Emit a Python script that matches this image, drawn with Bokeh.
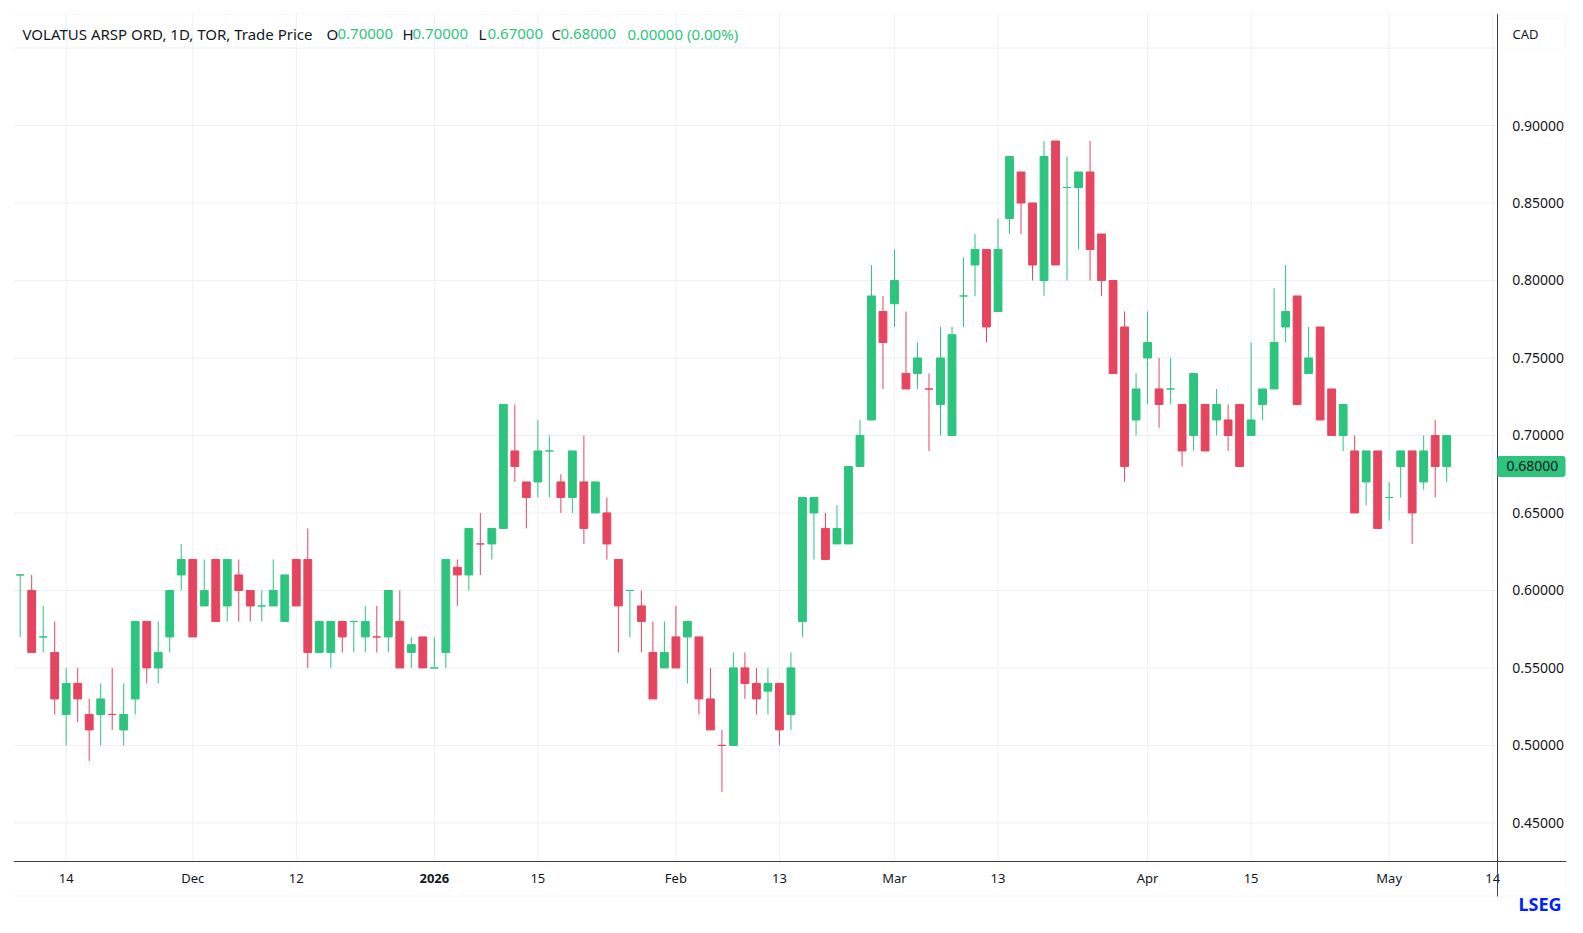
import pandas as pd
from bokeh.plotting import figure
from bokeh.models import (ColumnDataSource, FixedTicker, Label, BoxAnnotation,
                          NumeralTickFormatter, Range1d)
from bokeh.embed import file_html
from bokeh.resources import INLINE

# ---------------- data ----------------
first_session = "2025-11-10"
last_axis_day = "2026-05-14"
exchange_holidays = ["2025-12-25", "2025-12-26", "2026-01-01", "2026-02-16", "2026-04-03"]

opens = [0.61, 0.60, 0.57, 0.56, 0.52, 0.54, 0.52, 0.52, 0.52, 0.51,
         0.53, 0.58, 0.55, 0.57, 0.61, 0.62, 0.59, 0.62, 0.59, 0.61,
         0.60, 0.59, 0.59, 0.58, 0.62, 0.62, 0.56, 0.56, 0.58, 0.58,
         0.57, 0.57, 0.57, 0.58, 0.56, 0.57, 0.55, 0.56, 0.615, 0.61,
         0.63, 0.63, 0.64, 0.69, 0.67, 0.67, 0.69, 0.67, 0.66, 0.67,
         0.65, 0.65, 0.62, 0.60, 0.59, 0.56, 0.55, 0.57, 0.57, 0.57,
         0.53, 0.50, 0.50, 0.55, 0.54, 0.535, 0.54, 0.52, 0.58, 0.65,
         0.64, 0.63, 0.63, 0.68, 0.71, 0.78, 0.785, 0.74, 0.74, 0.73,
         0.72, 0.70, 0.79, 0.81, 0.82, 0.78, 0.84, 0.87, 0.85, 0.80,
         0.89, 0.86, 0.86, 0.87, 0.83, 0.80, 0.77, 0.71, 0.75, 0.73,
         0.73, 0.72, 0.70, 0.72, 0.71, 0.71, 0.72, 0.70, 0.72, 0.73,
         0.77, 0.79, 0.74, 0.77, 0.73, 0.70, 0.69, 0.67, 0.69, 0.66,
         0.68, 0.69, 0.67, 0.70, 0.68]
highs = [0.61, 0.61, 0.59, 0.58, 0.55, 0.55, 0.53, 0.54, 0.55, 0.54,
         0.58, 0.58, 0.58, 0.60, 0.63, 0.62, 0.62, 0.62, 0.62, 0.62,
         0.60, 0.60, 0.62, 0.61, 0.62, 0.64, 0.58, 0.58, 0.58, 0.58,
         0.59, 0.59, 0.60, 0.60, 0.57, 0.57, 0.57, 0.62, 0.62, 0.64,
         0.65, 0.64, 0.72, 0.72, 0.67, 0.71, 0.70, 0.675, 0.69, 0.70,
         0.67, 0.66, 0.62, 0.60, 0.60, 0.58, 0.58, 0.59, 0.58, 0.57,
         0.55, 0.51, 0.56, 0.56, 0.55, 0.55, 0.54, 0.56, 0.66, 0.66,
         0.65, 0.655, 0.68, 0.71, 0.81, 0.79, 0.82, 0.78, 0.76, 0.74,
         0.77, 0.77, 0.815, 0.83, 0.82, 0.84, 0.88, 0.87, 0.85, 0.89,
         0.89, 0.88, 0.87, 0.89, 0.83, 0.80, 0.78, 0.74, 0.78, 0.75,
         0.75, 0.72, 0.74, 0.72, 0.73, 0.72, 0.72, 0.76, 0.73, 0.795,
         0.81, 0.79, 0.77, 0.77, 0.73, 0.72, 0.70, 0.69, 0.69, 0.67,
         0.69, 0.69, 0.70, 0.71, 0.70]
lows = [0.57, 0.56, 0.56, 0.52, 0.50, 0.515, 0.49, 0.50, 0.51, 0.50,
        0.52, 0.54, 0.54, 0.56, 0.60, 0.57, 0.59, 0.58, 0.58, 0.58,
        0.58, 0.58, 0.59, 0.58, 0.59, 0.55, 0.56, 0.55, 0.56, 0.56,
        0.56, 0.56, 0.56, 0.55, 0.55, 0.55, 0.55, 0.55, 0.59, 0.60,
        0.61, 0.62, 0.64, 0.67, 0.64, 0.66, 0.66, 0.65, 0.65, 0.63,
        0.65, 0.62, 0.56, 0.57, 0.56, 0.53, 0.55, 0.55, 0.54, 0.52,
        0.51, 0.47, 0.50, 0.53, 0.52, 0.52, 0.50, 0.51, 0.57, 0.62,
        0.62, 0.63, 0.63, 0.68, 0.71, 0.73, 0.77, 0.73, 0.73, 0.69,
        0.70, 0.70, 0.77, 0.79, 0.76, 0.78, 0.83, 0.83, 0.80, 0.79,
        0.81, 0.80, 0.82, 0.80, 0.79, 0.74, 0.67, 0.70, 0.72, 0.705,
        0.72, 0.68, 0.69, 0.69, 0.70, 0.69, 0.68, 0.70, 0.71, 0.73,
        0.76, 0.72, 0.74, 0.71, 0.70, 0.69, 0.65, 0.655, 0.64, 0.645,
        0.66, 0.63, 0.665, 0.66, 0.67]
closes = [0.61, 0.56, 0.57, 0.53, 0.54, 0.53, 0.51, 0.53, 0.52, 0.52,
          0.58, 0.55, 0.56, 0.60, 0.62, 0.57, 0.60, 0.58, 0.62, 0.60,
          0.59, 0.59, 0.60, 0.61, 0.59, 0.56, 0.58, 0.58, 0.57, 0.58,
          0.58, 0.57, 0.60, 0.55, 0.565, 0.55, 0.55, 0.62, 0.61, 0.64,
          0.63, 0.64, 0.72, 0.68, 0.66, 0.69, 0.69, 0.66, 0.69, 0.64,
          0.67, 0.63, 0.59, 0.60, 0.58, 0.53, 0.56, 0.55, 0.58, 0.53,
          0.51, 0.50, 0.55, 0.54, 0.53, 0.54, 0.51, 0.55, 0.66, 0.66,
          0.62, 0.64, 0.68, 0.70, 0.79, 0.76, 0.80, 0.73, 0.75, 0.73,
          0.75, 0.765, 0.79, 0.82, 0.77, 0.82, 0.88, 0.85, 0.81, 0.88,
          0.81, 0.86, 0.87, 0.82, 0.80, 0.74, 0.68, 0.73, 0.76, 0.72,
          0.73, 0.69, 0.74, 0.69, 0.72, 0.70, 0.68, 0.71, 0.73, 0.76,
          0.78, 0.72, 0.75, 0.71, 0.70, 0.72, 0.65, 0.69, 0.64, 0.66,
          0.69, 0.65, 0.69, 0.68, 0.70]

tick_dates = ["2025-11-14", "2025-12-01", "2025-12-12", "2026-01-02", "2026-01-15",
              "2026-02-02", "2026-02-13", "2026-03-02", "2026-03-13", "2026-04-01",
              "2026-04-15", "2026-05-01", "2026-05-14"]
tick_labels = ["14", "Dec", "12", "2026", "15", "Feb", "13", "Mar", "13", "Apr",
               "15", "May", "14"]
year_label = "2026"

price_ticks = [0.45, 0.50, 0.55, 0.60, 0.65, 0.70, 0.75, 0.80, 0.85, 0.90]
grid_prices = [0.45, 0.50, 0.55, 0.60, 0.65, 0.70, 0.75, 0.80, 0.85, 0.90, 0.95]
last_price = 0.68
currency = "CAD"
title_text = "VOLATUS ARSP ORD, 1D, TOR, Trade Price"
header_fields = [("O", "0.70000"), ("H", "0.70000"), ("L", "0.67000"), ("C", "0.68000")]
header_change = "0.00000 (0.00%)"
brand = "LSEG"

# ---------------- styles ----------------
GREEN = "#2dc47e"
RED = "#e5455f"
TEXT = "#131722"
GRID = "#eff0f3"
AXIS = "#3c3f48"
BORDER = "#e3e5e9"
FONT = "Noto Sans"

# ---------------- session calendar ----------------
sessions = [d.strftime("%Y-%m-%d") for d in pd.bdate_range(first_session, last_axis_day)
            if d.strftime("%Y-%m-%d") not in exchange_holidays]
session_index = {d: i for i, d in enumerate(sessions)}
tick_pos = [session_index[d] for d in tick_dates]

n = len(opens)
xs = list(range(n))
colors = []
for i in range(n):
    if closes[i] > opens[i]:
        up = True
    elif closes[i] < opens[i]:
        up = False
    else:
        up = (i == 0) or closes[i] >= closes[i - 1]
    colors.append(GREEN if up else RED)

src = ColumnDataSource(dict(
    x=xs, open=opens, high=highs, low=lows, close=closes,
    top=[max(o, c) for o, c in zip(opens, closes)],
    bottom=[min(o, c) for o, c in zip(opens, closes)],
    color=colors))

# ---------------- geometry (canvas pixels) ----------------
W, H = 1567, 917
FL, FT = 13, 13                  # frame left/top; frame runs to the canvas right/bottom
CX0, CPX = 19.68, 11.504         # session 0 centre, pixels per session
PY90, PPU = 125.0, 1549.8        # pixel row of 0.90, pixels per price unit
AXIS_X, AXIS_Y = 1496.7, 860.7   # price-axis line column, date-axis line row
BOX_R, BOX_B = 1565.5, 895.5     # outer chart border

def xi(px):
    return (px - CX0) / CPX

def yp(py):
    return 0.90 - (py - PY90) / PPU

x0, x1 = xi(FL), xi(W)
y0, y1 = yp(H), yp(FT)

p = figure(width=W, height=H, x_range=Range1d(x0, x1), y_range=Range1d(y0, y1),
           y_axis_location="right", toolbar_location=None, output_backend="svg",
           min_border_left=FL, min_border_top=FT, min_border_right=0, min_border_bottom=0)
p.background_fill_color = "white"
p.border_fill_color = "white"
p.outline_line_color = None
p.xgrid.visible = False
p.ygrid.visible = False

# axes fixed at the chart's edges
xa, ya = p.xaxis[0], p.yaxis[0]
xa.fixed_location = yp(AXIS_Y)
xa.bounds = (x0, xi(BOX_R))
ya.fixed_location = xi(AXIS_X)
ya.bounds = (yp(BOX_B), y1)
xa.ticker = FixedTicker(ticks=tick_pos)
xa.major_label_overrides = {pos: ("" if lab == year_label else lab)
                            for pos, lab in zip(tick_pos, tick_labels)}
ya.ticker = FixedTicker(ticks=price_ticks)
ya.formatter = NumeralTickFormatter(format="0.00000")
for ax in (xa, ya):
    ax.axis_line_color = AXIS
    ax.major_tick_line_color = None
    ax.minor_tick_line_color = None
    ax.major_label_text_color = TEXT
    ax.major_label_text_font = FONT
xa.major_label_text_font_size = "13px"
xa.major_label_standoff = 2
ya.major_label_text_font_size = "14px"
ya.major_label_standoff = 9

# grid lines limited to the chart area
gx_left, gx_right = x0, xi(AXIS_X)
gy_bottom, gy_top = yp(AXIS_Y), y1
p.segment(x0=[gx_left] * len(grid_prices), y0=grid_prices,
          x1=[gx_right] * len(grid_prices), y1=grid_prices, line_color=GRID, line_width=1)
p.segment(x0=tick_pos, y0=[gy_bottom] * len(tick_pos),
          x1=tick_pos, y1=[gy_top] * len(tick_pos), line_color=GRID, line_width=1)

# candles
p.segment(x0="x", y0="low", x1="x", y1="high", source=src, line_color="color", line_width=1)
p.vbar(x="x", width=0.68, top="top", bottom="bottom", source=src,
       fill_color="color", line_color="color", line_width=1)

def canvas_box(l, r, t, b, **kw):
    p.add_layout(BoxAnnotation(left=l, right=r, top=t, bottom=b,
                               left_units="canvas", right_units="canvas",
                               top_units="canvas", bottom_units="canvas", **kw))

def canvas_text(x, y, text, size, color, style="normal", align="left"):
    p.add_layout(Label(x=x, y=y, x_units="canvas", y_units="canvas", text=text,
                       text_baseline="middle", text_align=align, text_font=FONT,
                       text_font_size=size, text_font_style=style, text_color=color))

# outer border
canvas_box(12.5, BOX_R, 13.5, BOX_B, fill_color=None, line_color=BORDER, line_width=1)

# bold year label on the date axis
year_pos = tick_pos[tick_labels.index(year_label)]
p.add_layout(Label(x=year_pos, y=878, x_units="data", y_units="canvas",
                   text=year_label, text_align="center", text_baseline="middle",
                   text_font=FONT, text_font_size="13px", text_font_style="bold",
                   text_color=TEXT))

# currency box
canvas_box(1502, 1564, 18, 49, fill_color="white", fill_alpha=1, line_color="#e6e8ec",
           border_radius=5)
canvas_text(1512, 33.5, currency, "13px", TEXT)

# last price tag
half = 10.5 / PPU
p.add_layout(BoxAnnotation(left=AXIS_X, right=1565, top=last_price + half,
                           bottom=last_price - half,
                           left_units="canvas", right_units="canvas",
                           top_units="data", bottom_units="data",
                           fill_color=GREEN, fill_alpha=1, line_color=None, border_radius=3))
p.add_layout(Label(x=1506, y=last_price, x_units="canvas", y_units="data",
                   text=f"{last_price:.5f}", text_baseline="middle", text_font=FONT,
                   text_font_size="14px", text_color=TEXT))

# header legend
canvas_text(22, 33, title_text, "15px", TEXT)
hdr_x = [(326, 337), (402, 412), (478, 487), (551, 560)]
for (lx, vx), (letter, val) in zip(hdr_x, header_fields):
    canvas_text(lx, 33, letter, "15px", TEXT)
    canvas_text(vx, 33, val, "15px", GREEN)
canvas_text(627, 33, header_change, "15px", GREEN)

# brand mark
canvas_text(1561, 903, brand, "18px", "#001eff", style="bold", align="right")

open("out.html", "w").write(file_html(p, INLINE))
